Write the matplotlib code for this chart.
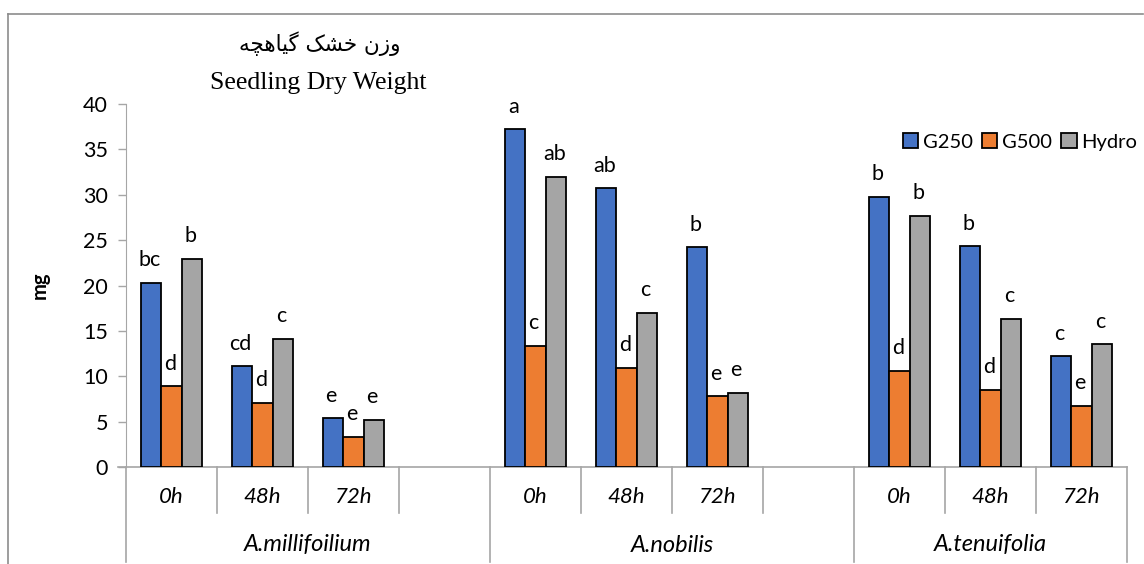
import numpy as np
import matplotlib
matplotlib.use("Agg")
from matplotlib import pyplot as plt
import matplotlib.patches as patches
from matplotlib.lines import Line2D

plt.rcParams['font.family'] = ['Lato', 'DejaVu Sans']

species = ['A.millifoilium', 'A.nobilis', 'A.tenuifolia']
times = ['0h', '48h', '72h']
series = ['G250', 'G500', 'Hydro']
colors = ['#4472C4', '#ED7D31', '#A5A5A5']

g250 = [20.3, 11.1, 5.35, 37.2, 30.7, 24.2, 29.8, 24.3, 12.2]
g500 = [8.9, 7.1, 3.3, 13.35, 10.9, 7.8, 10.6, 8.5, 6.7]
hydro = [22.9, 14.1, 5.2, 32.0, 17.0, 8.2, 27.65, 16.3, 13.5]

g250_letters = ['bc', 'cd', 'e', 'a', 'ab', 'b', 'b', 'b', 'c']
g500_letters = ['d', 'd', 'e', 'c', 'd', 'e', 'd', 'd', 'e']
hydro_letters = ['b', 'c', 'e', 'ab', 'c', 'e', 'b', 'c', 'c']

# persian title, letters already in presentation forms and visual order
title_fa = '\ufeea\ufb7d\ufeeb\ufe8e\ufbff\ufb94 \ufb8f\ufeb8\ufea7 \ufee5\ufeaf\ufeed'

W, H = 1144, 564
fig = plt.figure(figsize=(W / 100, H / 100), dpi=100)
x0, x1, y0, y1 = 126, 1127, 467, 104
ax = fig.add_axes([x0 / W, 1 - y0 / H, (x1 - x0) / W, (y0 - y1) / H])

# slot index for each bar group (a blank slot after each species except the last)
slots = [0, 1, 2, 4, 5, 6, 8, 9, 10]
bw = 0.225
fs = 15.5
vals = [g250, g500, hydro]
letters = [g250_letters, g500_letters, hydro_letters]
for k in range(3):
    xs = np.array(slots) + 0.5 + (k - 1) * bw
    ax.bar(xs, vals[k], bw, color=colors[k], edgecolor='black', linewidth=1.3,
           label=series[k], zorder=3)
    for x, v, t in zip(xs, vals[k], letters[k]):
        ax.text(x - 0.02, v + 1.4, t, ha='center', va='bottom', fontsize=fs)

ax.set_xlim(0, 11)
ax.set_ylim(0, 40)
ax.set_yticks(range(0, 41, 5))
ax.tick_params(axis='y', length=6, width=1, color='#A6A6A6', labelsize=fs, pad=7)
ax.set_xticks([])
for s in ['top', 'right', 'bottom']:
    ax.spines[s].set_visible(False)
ax.spines['left'].set_color('#A6A6A6')
ax.set_ylabel('mg', fontsize=14.5, fontweight='bold', labelpad=24)

# multi-level category axis
tr = ax.get_xaxis_transform()
ax.plot([-0.09, 11], [0, 0], color='#A6A6A6', lw=1.2, transform=tr, clip_on=False)
px = 1 / (y0 - y1)
for i in range(12):
    if i in (0, 4, 8, 11):
        low = -95 * px
    else:
        low = -46 * px
    ax.plot([i, i], [0, low], color='#A6A6A6', lw=1.2, transform=tr, clip_on=False)
for s in slots:
    ax.text(s + 0.5, -30 * px, times[s % 4], transform=tr, ha='center', va='center',
            fontsize=16, style='italic')
for j, name in enumerate(species):
    cx = [2, 6, 9.5][j]
    ax.text(cx, -78 * px, name, transform=tr, ha='center', va='center',
            fontsize=17, style='italic')

# titles
fig.text(320 / W, 1 - 44 / H, title_fa, ha='center', va='center', fontsize=15.5,
         family=['DejaVu Sans'])
fig.text(318 / W, 1 - 83 / H, 'Seedling Dry Weight', ha='center', va='center',
         fontsize=18.5, family='Liberation Serif')

handles = [patches.Patch(facecolor=c, edgecolor='black', linewidth=1.3) for c in colors]
fig.legend(handles, series, loc='center left', bbox_to_anchor=(903 / W, 1 - 142 / H),
           ncol=3, frameon=False, fontsize=14.5, handlelength=0.75, handleheight=0.75,
           handletextpad=0.25, columnspacing=0.45, borderaxespad=0, borderpad=0)

# chart area border
fig.add_artist(Line2D([8 / W, 8 / W], [0, 1 - 14 / H], color='#8C8C8C', lw=1.2,
                      transform=fig.transFigure))
fig.add_artist(Line2D([8 / W, 1143 / W], [1 - 14 / H, 1 - 14 / H], color='#8C8C8C', lw=1.2,
                      transform=fig.transFigure))

plt.savefig('out.png', dpi=100)
